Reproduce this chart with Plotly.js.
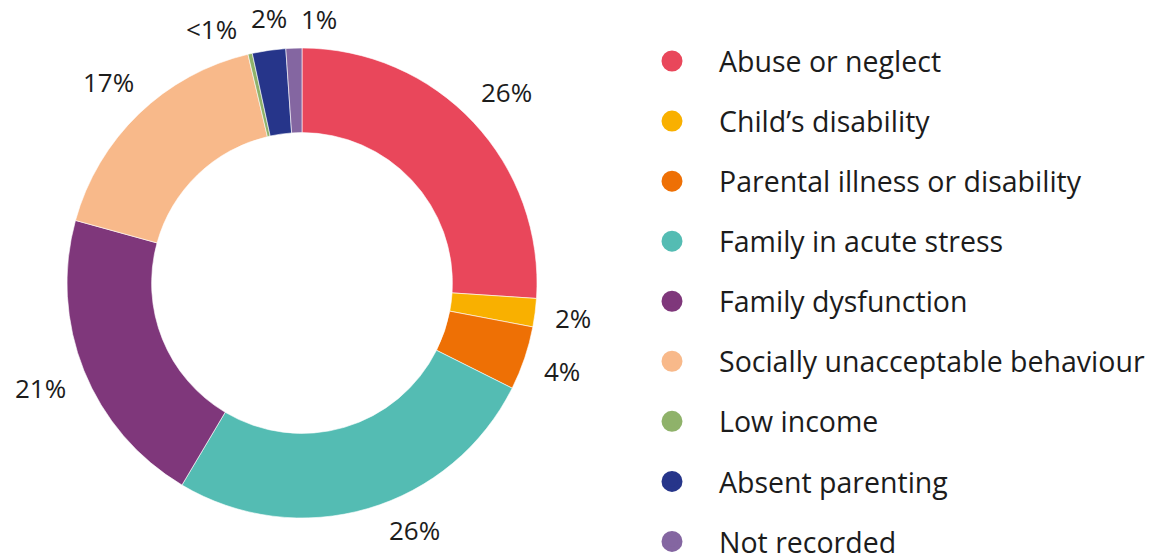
<!DOCTYPE html>
<html>
<head>
<meta charset="utf-8">
<script src="https://cdn.plot.ly/plotly-3.0.1.min.js"></script>
<style>html,body{margin:0;padding:0;background:#fff;overflow:hidden;}#wrap{width:1151px;height:558px;overflow:hidden;}#chart{width:1151px;}</style>
</head>
<body>
<div id="wrap"><div id="chart"></div></div>
<script>
const categories = ["Abuse or neglect", "Child\u2019s disability", "Parental illness or disability", "Family in acute stress", "Family dysfunction", "Socially unacceptable behaviour", "Low income", "Absent parenting", "Not recorded"];
const shares = [26.1, 1.95, 4.4, 26.2, 20.8, 17.05, 0.3, 2.3, 1.1];
const shareLabels = ["26%", "2%", "4%", "26%", "21%", "17%", "<1%", "2%", "1%"];
const sliceColors = ["#E9475B", "#F9B000", "#EE7005", "#54BCB3", "#7F377B", "#F8B98A", "#8FB26A", "#26358A", "#8466A1"];

const W = 1151, H = 558;          // visible picture
const FH = 572;                   // figure height (a little taller so the 9-item legend is not squeezed)
const FONT = "'Open Sans', Lato, sans-serif";
const TXT = "#1c1c1c";
const LABEL_SIZE = 26;
const LEGEND_SIZE = 28.5;
const PIE_PX = {x0: 67, x1: 537, y0: 48, y1: 518};
const pieDomain = {x: [PIE_PX.x0 / W, PIE_PX.x1 / W], y: [1 - PIE_PX.y1 / FH, 1 - PIE_PX.y0 / FH]};
const HOLE = 0.64;

// ---- label placement derived from the data (outside labels, spread when they collide) ----
const cx = (PIE_PX.x0 + PIE_PX.x1) / 2;
const cy = (PIE_PX.y0 + PIE_PX.y1) / 2;
const R = Math.min(PIE_PX.x1 - PIE_PX.x0, PIE_PX.y1 - PIE_PX.y0) / 2;
const ctx = document.createElement("canvas").getContext("2d");
ctx.font = LABEL_SIZE + "px 'Open Sans'";
const total = shares.reduce((a, b) => a + b, 0);
const GAP = 19, PAD = 14, TH = LABEL_SIZE * 0.8, EDGE_TOP = 6, EDGE_BOTTOM = 18;
let cum = 0;
const labs = shares.map((v, i) => {
  const mid = (cum + v / 2) / total * 2 * Math.PI; cum += v;
  const s = Math.sin(mid), c = -Math.cos(mid);
  const w = ctx.measureText(shareLabels[i]).width;
  const r = R + GAP + Math.abs(s) * w / 2 + Math.abs(c) * TH / 2;
  return {i, x: cx + r * s, y: cy + r * c, w, r};
});
// keep labels inside the visible picture: slide along their circle
labs.forEach(l => {
  const lo = TH / 2 + EDGE_TOP, hi = H - TH / 2 - EDGE_BOTTOM;
  if (l.y < lo || l.y > hi) {
    l.y = Math.min(hi, Math.max(lo, l.y));
    const dy = l.y - cy;
    l.x = cx + (l.x < cx ? -1 : 1) * Math.sqrt(Math.max(0, l.r * l.r - dy * dy));
  }
});
// resolve horizontal overlaps among labels at similar heights
for (let it = 0; it < 60; it++) {
  const order = labs.slice().sort((a, b) => a.x - b.x);
  for (let k = 0; k < order.length - 1; k++) {
    const a = order[k], b = order[k + 1];
    if (Math.abs(a.y - b.y) > TH + 4) continue;
    const need = (a.w + b.w) / 2 + PAD, have = b.x - a.x;
    if (have < need) { const d = (need - have) / 2; a.x -= d; b.x += d; }
  }
  labs.forEach(l => { const dx = l.x - cx; if (Math.abs(dx) < l.r) l.y = cy + (l.y < cy ? -1 : 1) * Math.sqrt(l.r * l.r - dx * dx); });
}
const annotations = labs.map(l => ({
  text: shareLabels[l.i], xref: "paper", yref: "paper",
  x: l.x / W, y: 1 - l.y / FH, xanchor: "center", yanchor: "middle",
  showarrow: false, font: {family: FONT, size: LABEL_SIZE, color: TXT}
}));

const traces = [{
  type: "pie",
  labels: categories,
  values: shares,
  textinfo: "none",
  hole: HOLE,
  sort: false,
  direction: "clockwise",
  rotation: 0,
  marker: {colors: sliceColors, line: {color: "#ffffff", width: 0.6}},
  domain: pieDomain,
  showlegend: false,
  hoverinfo: "label+percent"
}];

categories.forEach((c, i) => {
  traces.push({
    type: "scatter",
    mode: "markers",
    x: [null], y: [null],
    name: c,
    legendgroup: "g" + i,
    marker: {color: sliceColors[i], size: 16, symbol: "circle", line: {color: sliceColors[i], width: 5}},
    hoverinfo: "skip"
  });
});

const layout = {
  width: W, height: FH,
  margin: {l: 0, r: 0, t: 0, b: 0},
  paper_bgcolor: "#ffffff",
  plot_bgcolor: "#ffffff",
  font: {family: FONT, color: TXT},
  xaxis: {visible: false, domain: [0.95, 1]},
  yaxis: {visible: false},
  annotations: annotations,
  legend: {
    x: 625 / W, xanchor: "left",
    y: 1 - 36 / FH, yanchor: "top",
    font: {family: FONT, size: LEGEND_SIZE, color: TXT},
    tracegroupgap: 20,
    itemwidth: 84,
    bgcolor: "rgba(0,0,0,0)"
  },
  showlegend: true
};

Plotly.newPlot("chart", traces, layout, {displayModeBar: false, staticPlot: true});
</script>
</body>
</html>
